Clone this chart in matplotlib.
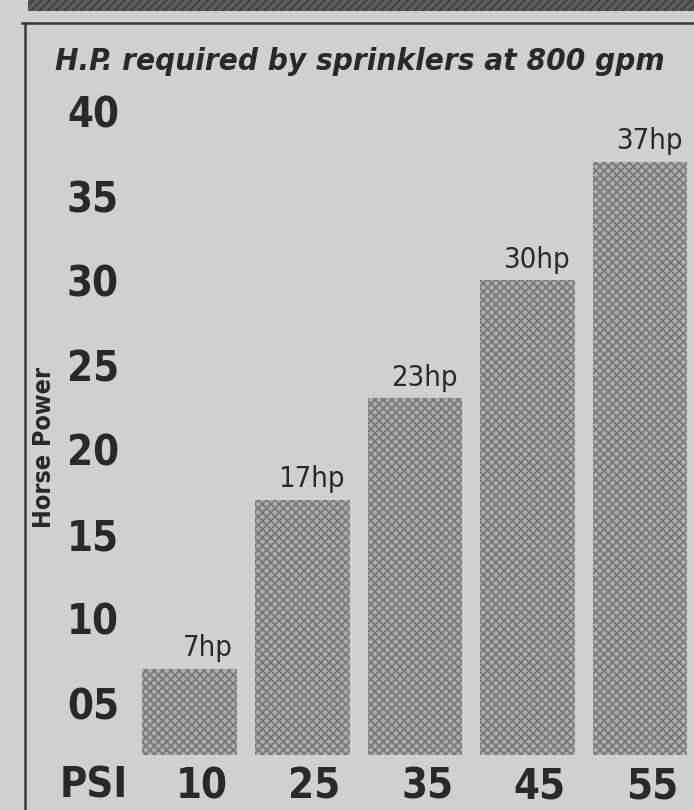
import os
import matplotlib
matplotlib.use('Agg')
import matplotlib.pyplot as plt
from matplotlib.patches import Rectangle
from matplotlib.lines import Line2D
from matplotlib import font_manager
from matplotlib.font_manager import FontProperties

### Data ###
psi = ['10', '25', '35', '45', '55']
horse_power = [7, 17, 23, 30, 37]
hp_labels = ['7hp', '17hp', '23hp', '30hp', '37hp']
y_ticks = [5, 10, 15, 20, 25, 30, 35, 40]
y_tick_labels = ['05', '10', '15', '20', '25', '30', '35', '40']

### Style ###
PAPER = '#d2d0cc'
INK = '#2a2828'
BAR_FACE = '#afadac'
BAR_HATCH = '#787676'
BIG = 30  # axis numbers


### Narrow font lookup (newspaper uses a condensed grotesque) ###
def narrow_font(kind):
    # kind: 'regular', 'bold', 'bolditalic'
    wanted = {
        'regular': ['liberationsansnarrow-regular', 'dejavusanscondensed.'],
        'bold': ['liberationsansnarrow-bold.', 'dejavusanscondensed-bold.'],
        'bolditalic': ['liberationsansnarrow-bolditalic', 'dejavusanscondensed-boldoblique'],
    }[kind]
    files = [f.fname for f in font_manager.fontManager.ttflist]
    for key in wanted:
        for fn in files:
            if os.path.basename(fn).lower().startswith(key):
                return FontProperties(fname=fn)
    fallback = {'regular': dict(), 'bold': dict(weight='bold'),
                'bolditalic': dict(weight='bold', style='italic')}[kind]
    return FontProperties(family='DejaVu Sans', stretch='condensed', **fallback)


F_REG = narrow_font('regular')
F_BOLD = narrow_font('bold')
F_TITLE = narrow_font('bolditalic')

plt.rcParams['hatch.linewidth'] = 1.2

fig = plt.figure(figsize=(6.94, 8.10), dpi=100, facecolor=PAPER)

# dark band at the top of the clipping and the box frame
fig.patches.append(Rectangle((28 / 694, 1 - 11 / 810), 1, 11 / 810, transform=fig.transFigure,
                             facecolor='#5e5c5b', hatch='////', edgecolor='#3e3c3b', lw=0))
fig.lines.append(Line2D([22 / 694, 1], [1 - 23 / 810, 1 - 23 / 810], transform=fig.transFigure,
                        color='#3a3838', lw=1.8))
fig.lines.append(Line2D([25 / 694, 25 / 694], [0, 1 - 23 / 810], transform=fig.transFigure,
                        color='#3a3838', lw=1.8))

ax = fig.add_axes([130 / 694, 55 / 810, 564 / 694, 655 / 810])
ax.set_facecolor('none')

x = range(len(psi))
ax.bar(x, horse_power, width=0.84, color=BAR_FACE, edgecolor=BAR_HATCH, hatch='xxxx', linewidth=0)

for i, (v, lab) in enumerate(zip(horse_power, hp_labels)):
    ax.annotate(lab, xy=(i + 0.38, v), xytext=(0, 9), textcoords='offset points',
                ha='right', va='baseline', fontproperties=F_REG, fontsize=21, color=INK)

ax.set_xlim(-0.53, 4.48)
ax.set_ylim(1.9, 40.65)
ax.set_yticks(y_ticks)
ax.set_yticklabels(y_tick_labels)
for t in ax.get_yticklabels():
    t.set_fontproperties(F_BOLD)
    t.set_fontsize(BIG)
    t.set_color(INK)
ax.tick_params(axis='y', length=0, pad=8)
ax.set_xticks([])
for s in ax.spines.values():
    s.set_visible(False)

# x labels sit a little right of bar centres in the original
for i, p in enumerate(psi):
    ax.text(i + 0.11, -0.048, p, transform=ax.get_xaxis_transform(), ha='center', va='center',
            fontproperties=F_BOLD, fontsize=BIG, color=INK)
fig.text(94 / 694, 1 - 785 / 810, 'PSI', ha='center', va='center', fontproperties=F_BOLD,
         fontsize=BIG, color=INK)

fig.text(44 / 694, 1 - 447 / 810, 'Horse Power', rotation=90, ha='center', va='center',
         fontproperties=F_BOLD, fontsize=18, color=INK)

fig.text(360 / 694, 1 - 61 / 810, 'H.P. required by sprinklers at 800 gpm', ha='center',
         va='center', fontproperties=F_TITLE, fontsize=22.5, color=INK)

plt.savefig('out.png', dpi=100, facecolor=PAPER)
